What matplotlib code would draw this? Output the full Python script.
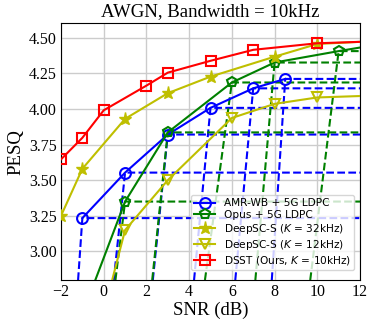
import matplotlib
matplotlib.use("Agg")
import matplotlib.pyplot as plt
from matplotlib.ticker import FormatStrFormatter

# ---------------- data ----------------
amr_snr = [-1, 1, 3, 5, 7, 8.5]
amr_pesq = [3.234, 3.553, 3.82, 4.007, 4.144, 4.21]
amr_floor = [-1.20, 0.47, 2.30, 4.23, 6.16, 7.87]   # SNR where each cliff curve leaves the plot

opus_snr = [-1, 1, 3, 6, 8, 11, 12]
opus_pesq = [2.56, 3.35, 3.835, 4.185, 4.325, 4.405, 4.43]
opus_cliff_snr = [1, 3, 6, 8, 11]
opus_cliff_pesq = [3.35, 3.835, 4.185, 4.325, 4.405]
opus_floor = [0.55, 2.27, 4.74, 7.10, 9.67]

dsc32_snr = [-2, -1, 1, 3, 5, 8, 10, 12]
dsc32_pesq = [3.25, 3.58, 3.93, 4.11, 4.226, 4.366, 4.455, 4.47]

dsc12_snr = [0, 1, 3, 6, 8, 10, 12]
dsc12_pesq = [2.57, 3.15, 3.50, 3.936, 4.035, 4.08, 4.09]

dsst_snr = [-2, -1, 0, 2, 3, 5, 7, 10, 12]
dsst_pesq = [3.646, 3.797, 3.99, 4.163, 4.254, 4.337, 4.414, 4.46, 4.47]

labels = ["AMR-WB + 5G LDPC", "Opus + 5G LDPC",
          "DeepSC-S ($K$ = 32kHz)", "DeepSC-S ($K$ = 12kHz)",
          "DSST (Ours, $K$ = 10kHz)"]

plt.rcParams["font.family"] = ["Liberation Serif", "DejaVu Serif"]

fig = plt.figure(figsize=(3.74, 3.27), dpi=100)
ax = fig.add_axes([61 / 374, 1 - 280 / 327, 299 / 374, 256.7 / 327])

ymin, ymax = 2.8, 4.6
xright = 13

# cliff curves of the separate coding schemes (dashed)
for s, p, f in zip(amr_snr, amr_pesq, amr_floor):
    ax.plot([f, s, xright], [ymin, p, p], "--", color="b", lw=1.5, zorder=2)
for s, p, f in zip(opus_cliff_snr, opus_cliff_pesq, opus_floor):
    ax.plot([f, s, xright], [ymin, p, p], "--", color="g", lw=1.5, zorder=2)

ms = 7.8
ax.plot(amr_snr, amr_pesq, "-o", color="b", lw=1.5, ms=ms, mfc="none", mew=1.5,
        label=labels[0], zorder=3)
ax.plot(opus_snr, opus_pesq, "-p", color="g", lw=1.5, ms=7, mfc="none", mew=1.5,
        markevery=slice(1, -1), label=labels[1], zorder=3)
ax.plot(dsc32_snr, dsc32_pesq, "-*", color="y", lw=1.5, ms=9.5, mew=1.0,
        markevery=slice(0, -1), label=labels[2], zorder=3)
ax.plot(dsc12_snr, dsc12_pesq, "-v", color="y", lw=1.5, ms=ms, mfc="none", mew=1.5,
        markevery=slice(1, -1), label=labels[3], zorder=3)
ax.plot(dsst_snr, dsst_pesq, "-s", color="r", lw=1.5, ms=ms, mfc="none", mew=1.5,
        markevery=slice(0, -1), label=labels[4], zorder=4)

ax.set_xlim(-2, 12)
ax.set_ylim(ymin, ymax)
ax.set_xticks(range(-2, 13, 2))
ax.set_yticks([3.00, 3.25, 3.50, 3.75, 4.00, 4.25, 4.50])
ax.yaxis.set_major_formatter(FormatStrFormatter("%.2f"))
ax.tick_params(labelsize=11.5, direction="in", length=0, pad=3)
ax.grid(True, color="#cccccc", lw=1.0)
ax.set_axisbelow(True)

ax.set_title("AWGN, Bandwidth = 10kHz", fontsize=13.5, pad=5)
ax.set_xlabel("SNR (dB)", fontsize=13.5, labelpad=1)
ax.set_ylabel("PESQ", fontsize=13.5, labelpad=3)

ax.legend(loc="lower right", bbox_to_anchor=(0.98, 0.039), borderaxespad=0,
          labelspacing=0.18, borderpad=0.3,
          prop={"family": "DejaVu Sans", "size": 7.6})

fig.savefig("out.png", dpi=100)
